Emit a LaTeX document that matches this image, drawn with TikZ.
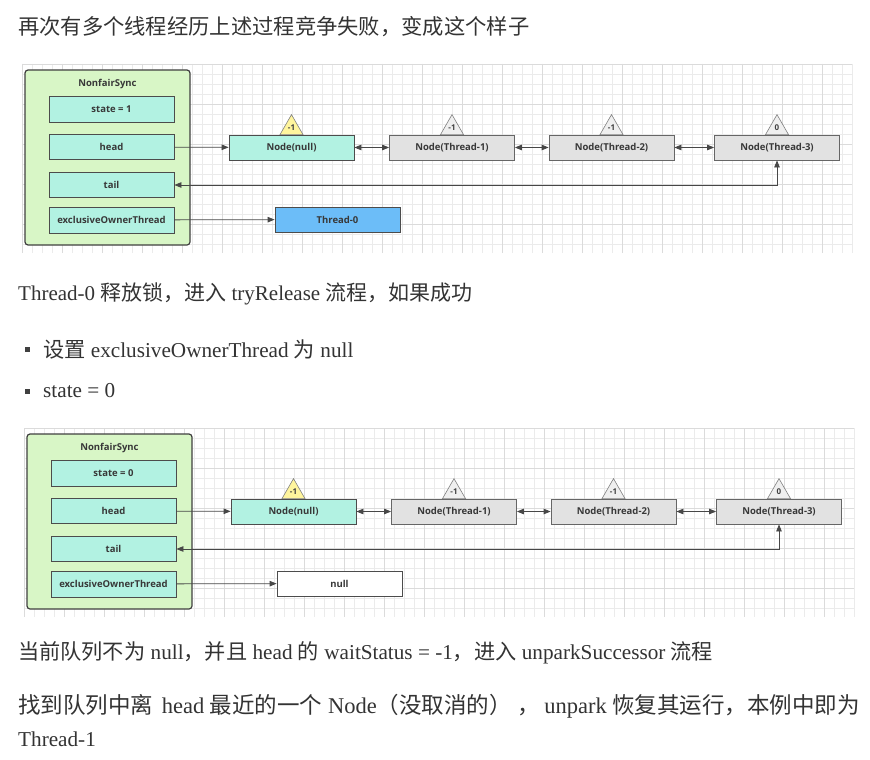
\documentclass[tikz,border=0pt]{standalone}
\usepackage{fontspec}
\setmainfont{Liberation Serif}
\newfontfamily\cjk{Noto Sans CJK SC}
\newfontfamily\dfont{Open Sans}
\usetikzlibrary{arrows.meta,calc}
\definecolor{sgreen}{HTML}{D8F6C6}
\definecolor{scyan}{HTML}{B2F2E2}
\definecolor{sblue}{HTML}{6CBDF8}
\definecolor{qgray}{HTML}{E2E2E2}
\definecolor{wsyellow}{HTML}{FFF59D}
\definecolor{wsgray}{HTML}{EFEFEF}
\definecolor{txtc}{HTML}{333333}
\tikzset{
  outerbox/.style={draw=black!75, fill=sgreen, rounded corners=3pt, line width=1.2pt},
  dtext/.style={font=\dfont\bfseries\fontsize{9.5}{11}\selectfont, text=black!78},
  field/.style={dtext, draw=black!70, fill=scyan, minimum width=125pt, minimum height=25pt, inner sep=0pt, line width=0.8pt},
  qnode/.style={field, fill=qgray, draw=black!60},
  wstri/.style={draw=black!50, line width=0.6pt},
  wslabel/.style={font=\dfont\bfseries\fontsize{8}{9}\selectfont, text=black!75, inner sep=0pt},
  gridminor/.style={draw=black!8, line width=0.5pt},
  gridmajor/.style={draw=black!14, line width=0.6pt},
  link/.style={draw=black!72, line width=0.8pt, -{Triangle[length=7pt,width=5.5pt]}},
  dlink/.style={draw=black!72, line width=0.8pt, {Triangle[length=7pt,width=5.5pt]}-{Triangle[length=7pt,width=5.5pt]}},
  txt/.style={anchor=west, inner sep=0pt, text=txtc, font=\fontsize{21.2}{25}\selectfont},
  bulletsq/.style={fill=black!75, minimum size=5pt, inner sep=0pt},
}
\newcommand\wsmark[3]{%
  \draw[wstri, fill=#3] ($(#1.north)+(-11.5,0)$) -- ($(#1.north)+(0,-20)$) -- ($(#1.north)+(11.5,0)$) -- cycle;
  \node[wslabel] (#1ws) at ($(#1.north)+(0,-7)$) {#2};}
\newcommand\syncdiagram[6]{%
  \begin{scope}[shift={(#2,#3)}]
    \foreach \gx in {0,10,...,830} \draw[gridminor] (22+\gx,64) -- (22+\gx,253);
    \foreach \gy in {0,10,...,180} \draw[gridminor] (22,64+\gy) -- (852,64+\gy);
    \foreach \gx in {0,40,...,830} \draw[gridmajor] (22+\gx,64) -- (22+\gx,253);
    \foreach \gy in {0,40,...,180} \draw[gridmajor] (22,64+\gy) -- (852,64+\gy);
    \path[outerbox] (25,70) rectangle (190,245);
    \node[dtext] (#1title) at (107.5,84) {NonfairSync};
    \node[field, minimum height=26pt] (#1state) at (111.5,109) {#4};
    \node[field] (#1head) at (111.5,147) {head};
    \node[field] (#1tail) at (111.5,185) {tail};
    \node[field, minimum height=26pt] (#1excl) at (111.5,220) {exclusiveOwnerThread};
    \node[field] (#1n0) at (291.5,147.5) {Node(null)};
    \node[qnode] (#1n1) at (452,147.5) {Node(Thread-1)};
    \node[qnode] (#1n2) at (611.5,147.5) {Node(Thread-2)};
    \node[qnode] (#1n3) at (777,147.5) {Node(Thread-3)};
    \node[field, fill=#5] (#1owner) at (337.5,219.5) {#6};
    \wsmark{#1n0}{-1}{wsyellow}
    \wsmark{#1n1}{-1}{wsgray}
    \wsmark{#1n2}{-1}{wsgray}
    \wsmark{#1n3}{0}{wsgray}
    \draw[link] (#1head) -- (#1n0);
    \draw[dlink] (#1n0) -- (#1n1);
    \draw[dlink] (#1n1) -- (#1n2);
    \draw[dlink] (#1n2) -- (#1n3);
    \draw[dlink] (#1tail.east) -| (#1n3.south);
    \draw[link] (#1excl) -- (#1owner);
  \end{scope}}
\begin{document}
\begin{tikzpicture}[x=1pt, y=-1pt]
\useasboundingbox[fill=white] (0,0) rectangle (870,760);
\node[txt, font=\fontsize{21.3}{25}\selectfont] (line1) at (18,27) {\cjk 再次有多个线程经历上述过程竞争失败，变成这个样子};
\syncdiagram{A}{0}{0}{state = 1}{sblue}{Thread-0}
\node[txt, font=\fontsize{21}{25}\selectfont] (line2) at (18,294) {Thread-0 {\cjk 释放锁，进入} tryRelease {\cjk 流程，如果成功}};
\node[bulletsq] (b1) at (27.5,349) {};
\node[txt] (item1) at (43,349) {{\cjk 设置} exclusiveOwnerThread {\cjk 为} null};
\node[bulletsq] (b2) at (27.5,391) {};
\node[txt] (item2) at (43,391) {state = 0};
\syncdiagram{B}{2}{364}{state = 0}{white}{null}
\node[txt] (line3) at (18,653) {{\cjk 当前队列不为} null{\cjk ，并且} head {\cjk 的} waitStatus = -1{\cjk ，进入} unparkSuccessor {\cjk 流程}};
\node[txt, font=\fontsize{22.5}{26}\selectfont] (line4) at (18,706) {{\cjk 找到队列中离}\hspace{3pt} head {\cjk 最近的一个} Node{\cjk （没取消的）\hspace{6pt}，\hspace{4pt}}unpark {\cjk 恢复其运行，本例中即为}};
\node[txt] (line5) at (18,739) {Thread-1};
\end{tikzpicture}
\end{document}
